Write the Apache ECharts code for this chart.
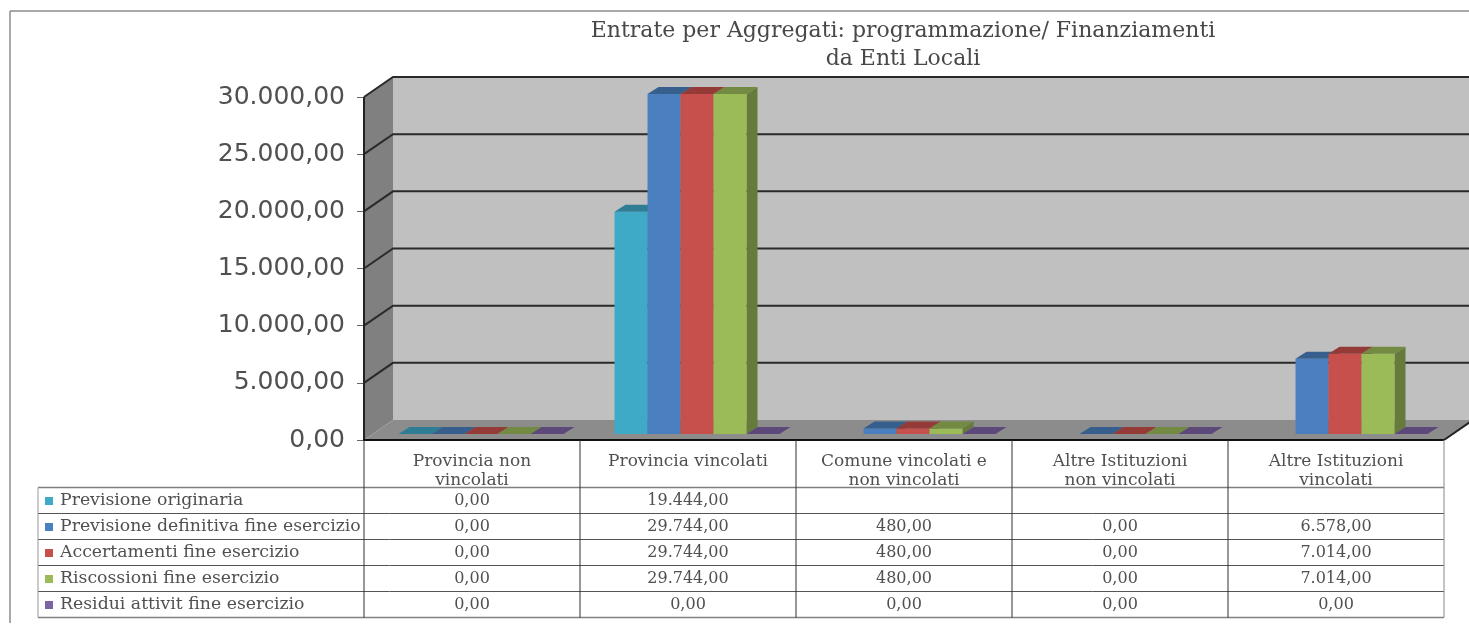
<!DOCTYPE html>
<html><head><meta charset="utf-8">
<style>html,body{margin:0;padding:0;background:#fff}#c{width:1469px;height:625px}</style>
<script src="https://cdn.jsdelivr.net/npm/echarts@6/dist/echarts.min.js"></script>
</head><body><div id="c"></div>
<script>
const titleText = 'Entrate per Aggregati: programmazione/ Finanziamenti\nda Enti Locali';
const categories = ['Provincia non\nvincolati','Provincia vincolati','Comune vincolati e\nnon vincolati','Altre Istituzioni\nnon vincolati','Altre Istituzioni\nvincolati'];
const seriesNames = ['Previsione originaria','Previsione definitiva fine esercizio','Accertamenti fine esercizio','Riscossioni fine esercizio','Residui attivit fine esercizio'];
const previsioneOriginaria = [0,19444,null,null,null];
const previsioneDefinitiva = [0,29744,480,0,6578];
const accertamenti = [0,29744,480,0,7014];
const riscossioni = [0,29744,480,0,7014];
const residui = [0,0,0,0,0];
const seriesValues = [previsioneOriginaria,previsioneDefinitiva,accertamenti,riscossioni,residui];
const yTicks = [0,5000,10000,15000,20000,25000,30000];
const colors = ['#3FA9C8','#4A80C0','#C8504C','#9BBB59','#7D62A4'];

const serif = '"DejaVu Serif"';
function fmtIt(v){const s=v.toFixed(2).split('.');return s[0].replace(/\B(?=(\d{3})+$)/g,'.')+','+s[1];}
function shade(hex,f){const n=parseInt(hex.slice(1),16);return 'rgb('+[n>>16,(n>>8)&255,n&255].map(c=>Math.round(c*f)).join(',')+')';}

const DX=29,DY=-20;            // depth of the box
const BX=9,BY=-6,BW=33,BDX=11,BDY=-7; // bar placement inside the box
const ROW0=501,ROWH=26;        // table rows

function wallItem(params,api){
  const band=api.size([1,0])[0];
  const y0=api.coord([0,0])[1], yT=api.coord([0,30000])[1];
  const L=api.coord([0,0])[0]-band/2, R=L+band*categories.length;
  const kids=[
    {type:'polygon',shape:{points:[[L+DX,yT+DY],[R+DX,yT+DY],[R+DX,y0+DY],[L+DX,y0+DY]]},style:{fill:'#C0C0C0'}},
    {type:'polygon',shape:{points:[[L,yT],[L+DX,yT+DY],[L+DX,y0+DY],[L,y0]]},style:{fill:'#808080'}},
    {type:'polygon',shape:{points:[[L,y0],[L+DX,y0+DY],[R+DX,y0+DY],[R,y0]]},style:{fill:'#8C8C8C'}}
  ];
  yTicks.forEach(t=>{
    if(t===0) return;
    const y=api.coord([0,t])[1];
    kids.push({type:'polyline',shape:{points:[[L,y],[L+DX,y+DY],[R+DX,y+DY]]},style:{fill:null,stroke:'#2A2A2A',lineWidth:2}});
  });
  kids.push({type:'line',shape:{x1:L,y1:yT,x2:L,y2:y0},style:{stroke:'#222',lineWidth:2}});
  kids.push({type:'line',shape:{x1:R,y1:y0,x2:R+DX,y2:y0+DY},style:{stroke:'#222',lineWidth:2}});
  kids.push({type:'line',shape:{x1:L-1,y1:y0,x2:R,y2:y0},style:{stroke:'#111',lineWidth:2}});
  return {type:'group',children:kids};
}
function barItem(si){return function(params,api){
  const v=api.value(1); if(v==null||isNaN(v)) return null;
  const p=api.coord([api.value(0),v]), b=api.coord([api.value(0),0]);
  const x=p[0]-2.5*BW+si*BW+BX, y=p[1]+BY, yb=b[1]+BY, w=BW, c=colors[si];
  const kids=[];
  if(yb-y>0.5){
    kids.push({type:'polygon',shape:{points:[[x+w,y],[x+w+BDX,y+BDY],[x+w+BDX,yb+BDY],[x+w,yb]]},style:{fill:shade(c,0.66)}});
    kids.push({type:'rect',shape:{x:x,y:y,width:w,height:yb-y},style:{fill:c}});
  }
  kids.push({type:'polygon',shape:{points:[[x,y],[x+w,y],[x+w+BDX,y+BDY],[x+BDX,y+BDY]]},style:{fill:shade(c,0.74)}});
  return {type:'group',children:kids};
};}
const tableCells=[];
seriesValues.forEach((arr,r)=>arr.forEach((v,c)=>{if(v!=null)tableCells.push([c,r,fmtIt(v)]);}));
function cellItem(params,api){
  const x=api.coord([api.value(0),0])[0], y=ROW0+api.value(1)*ROWH;
  return {type:'text',style:{text:tableCells[params.dataIndex][2],x:x,y:y,align:'center',verticalAlign:'middle',font:'16px '+serif,fill:'#505050'}};
}
function gridItem(params,api){
  const band=api.size([1,0])[0];
  const L=api.coord([0,0])[0]-band/2, R=L+band*categories.length, y0=api.coord([0,0])[1];
  const top=487.5, bot=top+ROWH*5, left=38;
  const kids=[];
  for(let i=0;i<=5;i++){const y=top+i*ROWH;kids.push({type:'line',shape:{x1:left,y1:y,x2:R,y2:y},style:{stroke:i===0||i===5?'#808080':'#555',lineWidth:i===0||i===5?1.5:1}});}
  kids.push({type:'line',shape:{x1:left,y1:top,x2:left,y2:bot},style:{stroke:'#999',lineWidth:1}});
  for(let i=0;i<=5;i++){const x=L+i*band;kids.push({type:'line',shape:{x1:x,y1:y0,x2:x,y2:bot},style:{stroke:i===5?'#888':'#333',lineWidth:1}});}
  return {type:'group',children:kids};
}

const chart=echarts.init(document.getElementById('c'),null,{renderer:'canvas'});
chart.setOption({
  animation:false,backgroundColor:'#fff',
  title:{text:titleText,left:903,top:17,padding:0,textAlign:'center',textStyle:{fontFamily:serif,fontWeight:'normal',fontSize:22,color:'#484848',lineHeight:28}},
  legend:{data:seriesNames,orient:'vertical',left:45,top:492,padding:0,itemWidth:8,itemHeight:8,itemGap:8,icon:'rect',selectedMode:false,
    textStyle:{fontFamily:serif,fontSize:17.3,color:'#505050',padding:[0,0,0,2],lineHeight:18}},
  grid:{left:364,right:25,top:97,height:343},
  xAxis:{type:'category',data:categories,axisLine:{show:false},axisTick:{show:false},
    axisLabel:{interval:0,margin:12,fontFamily:serif,fontSize:17,color:'#505050',lineHeight:19}},
  yAxis:{type:'value',min:0,max:30000,interval:5000,splitLine:{show:false},axisLine:{show:false},
    axisTick:{show:true,length:7,lineStyle:{color:'#666'}},
    axisLabel:{margin:19,fontFamily:'"DejaVu Sans"',fontSize:25,color:'#505050',formatter:fmtIt}},
  graphic:[
    {type:'line',shape:{x1:10,y1:11,x2:10,y2:623},style:{stroke:'#8c8c8c',lineWidth:1.5},z:-1},
    {type:'line',shape:{x1:10,y1:11,x2:1469,y2:11},style:{stroke:'#8c8c8c',lineWidth:1.5},z:-1}
  ],
  series:[
    {type:'custom',name:'walls',data:[[0,0]],renderItem:wallItem,z:1,silent:true,clip:false},
    {type:'custom',name:'table',data:[[0,0]],renderItem:gridItem,z:1,silent:true,clip:false},
    ...seriesNames.map((n,i)=>({type:'custom',name:n,itemStyle:{color:colors[i]},z:2+i,silent:true,clip:false,
      data:seriesValues[i].map((v,c)=>[c,v]),encode:{x:0,y:1},renderItem:barItem(i)})),
    {type:'custom',name:'cells',data:tableCells,encode:{x:0,y:1},renderItem:cellItem,z:10,silent:true,clip:false}
  ]
});
</script></body></html>
